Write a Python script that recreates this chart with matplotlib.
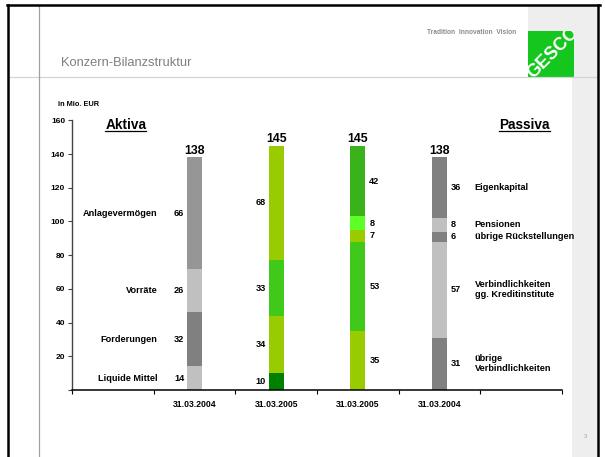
import matplotlib
matplotlib.use("Agg")
import matplotlib.pyplot as plt
from matplotlib.patches import Rectangle
from matplotlib.lines import Line2D
import numpy as np

plt.rcParams['font.family'] = ['Liberation Sans', 'DejaVu Sans']

# ---------------- data ----------------
categories = ["", "31.03.2004", "31.03.2005", "31.03.2005", "31.03.2004", ""]
aktiva_labels = ["Liquide Mittel", "Forderungen", "Vorräte", "Anlagevermögen"]
aktiva_2004 = [14, 32, 26, 66]
aktiva_2005 = [10, 34, 33, 68]
passiva_labels = ["übrige\nVerbindlichkeiten", "Verbindlichkeiten\ngg. Kreditinstitute",
                  "übrige Rückstellungen", "Pensionen", "Eigenkapital"]
passiva_2005 = [35, 53, 7, 8, 42]
passiva_2004 = [31, 57, 6, 8, 36]
totals = [138, 145, 145, 138]
yticks = [0, 20, 40, 60, 80, 100, 120, 140, 160]

col_a04 = ["#C0C0C0", "#808080", "#C0C0C0", "#969696"]
col_a05 = ["#008000", "#99CC00", "#40C81A", "#99CC00"]
col_p05 = ["#99CC00", "#40C81A", "#99CC00", "#5CFF26", "#3AB21A"]
col_p04 = ["#808080", "#C0C0C0", "#808080", "#C0C0C0", "#808080"]

W, H = 605, 457
fig = plt.figure(figsize=(W / 100, H / 100), dpi=100)


def fx(x):
    return x / W


def fy(y):
    return 1 - y / H


# ---------------- slide decorations ----------------
fig.add_artist(Rectangle((fx(528), fy(77)), fx(597 - 528), 72 / H, transform=fig.transFigure,
                         facecolor="#EEEEEE", edgecolor="none", zorder=0))
fig.add_artist(Rectangle((fx(572), 0), fx(597 - 572), fy(77), transform=fig.transFigure,
                         facecolor="#EEEEEE", edgecolor="none", zorder=0))
fig.add_artist(Line2D([fx(8), fx(597)], [fy(77), fy(77)], transform=fig.transFigure,
                      color="#D4D4D4", lw=0.9))
fig.add_artist(Line2D([fx(39), fx(39)], [fy(5), 0], transform=fig.transFigure,
                      color="#A0A0A0", lw=0.9))
fig.add_artist(Line2D([fx(7), fx(600)], [fy(5), fy(5)], transform=fig.transFigure,
                      color="black", lw=1.8))
fig.add_artist(Line2D([fx(8), fx(8)], [fy(5), 0], transform=fig.transFigure,
                      color="black", lw=1.8))
fig.add_artist(Line2D([fx(598), fx(598)], [fy(5), 0], transform=fig.transFigure,
                      color="black", lw=1.8))
logo = Rectangle((fx(528), fy(77)), fx(574 - 528), 46 / H, transform=fig.transFigure,
                 facecolor="#14C61E", edgecolor="none", zorder=1)
fig.add_artist(logo)
t = fig.text(fx(553), fy(53), "GESCO", rotation=45, ha="center", va="center",
             color="white", fontsize=13, fontweight="bold", zorder=2)
t.set_clip_path(logo)

fig.text(fx(516), fy(32), "Tradition  Innovation  Vision", ha="right", va="center",
         color="#8C8C8C", fontsize=4.8, fontweight="bold")
fig.text(fx(61), fy(63), "Konzern-Bilanzstruktur", ha="left", va="center",
         color="#7F7F7F", fontsize=9.3)
fig.text(fx(585), fy(437), "3", ha="center", va="center", color="#999999", fontsize=4)
fig.text(fx(58), fy(105), "in Mio. EUR", ha="left", va="center", fontsize=5.3,
         fontweight="bold")

# ---------------- chart ----------------
ax = fig.add_axes([fx(72), fy(390), fx(562 - 72), (390 - 120.4) / H])
ax.set_xlim(-0.5, 5.5)
ax.set_ylim(0, 160)
ax.patch.set_alpha(0)

bw = 0.18
series = [(1, aktiva_2004, col_a04), (2, aktiva_2005, col_a05),
          (3, passiva_2005, col_p05), (4, passiva_2004, col_p04)]
for xi, vals, cols in series:
    bottoms = np.concatenate([[0], np.cumsum(vals)[:-1]])
    ax.bar([xi] * len(vals), vals, bottom=bottoms, width=bw, color=cols,
           edgecolor="none", zorder=2)
    centers = bottoms + np.array(vals) / 2
    for v, c in zip(vals, centers):
        if xi <= 2:
            ax.annotate(str(v), (xi - bw / 2, c), xytext=(-2, 0), textcoords="offset points",
                        ha="right", va="center", fontsize=6.6, fontweight="bold")
        else:
            ax.annotate(str(v), (xi + bw / 2, c), xytext=(3, 0), textcoords="offset points",
                        ha="left", va="center", fontsize=6.6, fontweight="bold")
    if xi == 1:
        for lab, c in zip(aktiva_labels, centers):
            ax.annotate(lab, (xi - bw / 2, c), xytext=(-21.5, 0), textcoords="offset points",
                        ha="right", va="center", fontsize=6.6, fontweight="bold")
    if xi == 4:
        for lab, c in zip(passiva_labels, centers):
            ax.annotate(lab, (xi + bw / 2, c), xytext=(20, 0), textcoords="offset points",
                        ha="left", va="center", fontsize=6.6, fontweight="bold",
                        linespacing=1.15)

for xi, tot in zip([1, 2, 3, 4], totals):
    ax.annotate(str(tot), (xi, tot), xytext=(0, 0.5), textcoords="offset points",
                ha="center", va="bottom", fontsize=8.8, fontweight="bold")

ta = ax.text(0.16, 157, "Aktiva", ha="center", va="center", fontsize=9.8, fontweight="bold")
tp = ax.text(5.04, 157, "Passiva", ha="center", va="center", fontsize=9.8, fontweight="bold")

for s in ["top", "right"]:
    ax.spines[s].set_visible(False)
ax.spines["left"].set_color("#444444")
ax.spines["left"].set_linewidth(1.0)
ax.spines["bottom"].set_color("black")
ax.spines["bottom"].set_linewidth(1.1)

ax.set_yticks(yticks)
ax.set_yticklabels(["" if v == 0 else str(v) for v in yticks])
ax.tick_params(axis="y", length=3, width=0.8, pad=2, labelsize=6, color="#444444")
for lab in ax.get_yticklabels():
    lab.set_fontweight("bold")

ax.set_xticks(np.arange(-0.5, 6, 1.0))
ax.set_xticklabels([])
ax.tick_params(axis="x", which="major", length=3, width=0.8, direction="out")
ax.set_xticks(np.arange(0, 6), minor=True)
ax.set_xticklabels(categories, minor=True)
ax.tick_params(axis="x", which="minor", length=0, pad=7, labelsize=6.2)
for lab in ax.get_xticklabels(minor=True):
    lab.set_fontweight("bold")

# underline for Aktiva / Passiva
fig.canvas.draw()
r = fig.canvas.get_renderer()
for tt in (ta, tp):
    bb = tt.get_window_extent(r)
    yb = bb.y0 + 1.0
    fig.add_artist(Line2D([bb.x0 / W, bb.x1 / W], [yb / H, yb / H], transform=fig.transFigure,
                          color="black", lw=0.9))

fig.savefig("out.png", dpi=100)
